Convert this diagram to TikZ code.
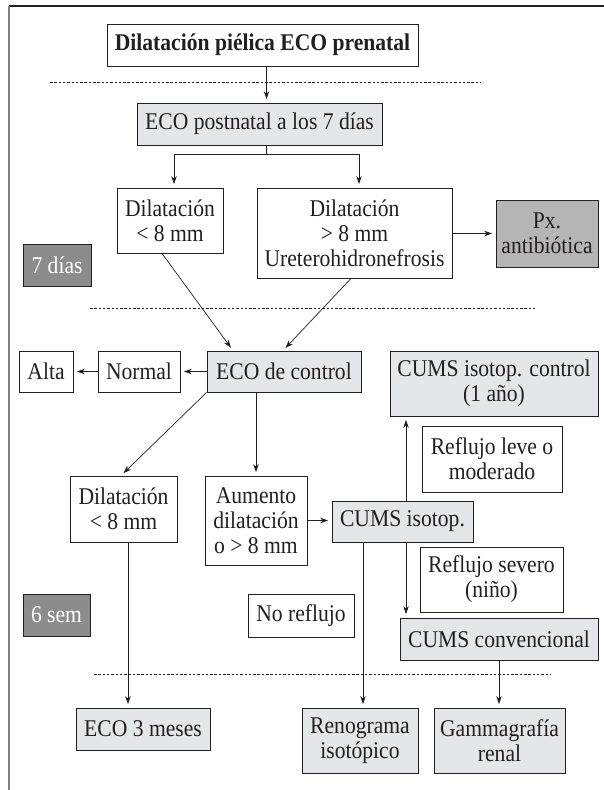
\documentclass[tikz,border=0pt]{standalone}
\usepackage{fontspec}
\setmainfont{Liberation Serif}[FakeStretch=0.9]
\usetikzlibrary{arrows.meta,calc}
\definecolor{lightbox}{HTML}{E5E6E7}
\definecolor{midbox}{HTML}{B5B5B5}
\definecolor{darkbox}{HTML}{8C8C8C}
\definecolor{ink}{HTML}{231F20}
\begin{document}
\begin{tikzpicture}[x=1pt,y=-1pt,
  box/.style={draw=ink, line width=0.8pt, inner sep=0pt, align=center, text=ink,
    font=\fontsize{24}{25}\selectfont},
  lbox/.style={box, fill=lightbox},
  mbox/.style={box, fill=midbox},
  dbox/.style={box, fill=darkbox, text=white},
  ln/.style={draw=ink, line width=0.7pt},
  arr/.style={ln, -{Stealth[length=8pt,width=5.5pt]}, shorten >=3.5pt},
  sep/.style={draw=ink, line width=0.6pt, dash pattern=on 2.5pt off 1.8pt}]
\useasboundingbox (0,0) rectangle (604,790);
% frame
\draw[draw=ink, line width=1.4pt] (9,6) -- (604,6);
\draw[draw=gray, line width=1.8pt] (9,6) -- (9,790);
% separators
\draw[sep] (50,82) -- (481,82);
\draw[sep] (90,308) -- (535,308);
\draw[sep] (94,674) -- (550,674);
% nodes
\node[box, minimum width=311pt, minimum height=42pt, font=\fontsize{24}{25}\selectfont\bfseries] (title) at (262.5,45) {Dilatación piélica ECO prenatal};
\node[lbox, minimum width=245pt, minimum height=42pt] (ecopost) at (259.5,124) {ECO postnatal a los 7 días};
\node[box, minimum width=106pt, minimum height=65pt] (dil1) at (170,220.5) {Dilatación\\< 8 mm};
\node[box, minimum width=195pt, minimum height=90pt] (dil2) at (354.5,233) {Dilatación\\> 8 mm\\Ureterohidronefrosis};
\node[mbox, minimum width=102pt, minimum height=67pt] (px) at (547,233.5) {Px.\\antibiótica};
\node[dbox, minimum width=68pt, minimum height=42pt] (dias) at (57,265) {7 días};
\node[box, minimum width=54pt, minimum height=41pt] (alta) at (46,371.5) {Alta};
\node[box, minimum width=82pt, minimum height=41pt] (normal) at (139,371.5) {Normal};
\node[lbox, minimum width=154pt, minimum height=41pt] (ecoctrl) at (284,371.5) {ECO de control};
\node[lbox, minimum width=208pt, minimum height=65pt] (cumsctrl) at (494,383.5) {CUMS isotop. control\\(1 año)};
\node[box, minimum width=140pt, minimum height=66pt] (refleve) at (492,459) {Reflujo leve o\\moderado};
\node[box, minimum width=107pt, minimum height=66pt] (dil3) at (123.5,509) {Dilatación\\< 8 mm};
\node[box, minimum width=102pt, minimum height=89pt] (aumento) at (256,520.5) {Aumento\\dilatación\\o > 8 mm};
\node[lbox, minimum width=141pt, minimum height=41pt] (cumsiso) at (402.5,521.5) {CUMS isotop.};
\node[box, minimum width=143pt, minimum height=65pt] (refsev) at (491.5,579.5) {Reflujo severo\\(niño)};
\node[dbox, minimum width=67pt, minimum height=42pt] (sem) at (56.5,615) {6 sem};
\node[box, minimum width=106pt, minimum height=43pt] (noref) at (301,615.5) {No reflujo};
\node[lbox, minimum width=198pt, minimum height=42pt] (cumsconv) at (499,639) {CUMS convencional};
\node[lbox, minimum width=134pt, minimum height=42pt] (eco3) at (143,729) {ECO 3 meses};
\node[lbox, minimum width=116pt, minimum height=65pt] (reno) at (360,740.5) {Renograma\\isotópico};
\node[lbox, minimum width=131pt, minimum height=65pt] (gamma) at (499.5,740.5) {Gammagrafía\\renal};
% connectors
\coordinate (ts) at ($(title.south)+(4,0)$);
\draw[arr] (ts) -- (ts |- ecopost.north);
\coordinate (bm) at (266,154);
\coordinate (bl) at (174,154);
\coordinate (br) at (359,154);
\draw[ln] (bm |- ecopost.south) -- (bm);
\draw[ln] (bl) -- (br);
\draw[arr] (bl) -- (bl |- dil1.north);
\draw[arr] (br) -- (br |- dil2.north);
\draw[arr] (dil2.east |- px.west) -- (px.west);
\draw[arr] ($(dil1.south)+(-8,0)$) -- ($(ecoctrl.north)+(-51,0)$);
\draw[arr] ($(dil2.south)+(-3.5,0)$) -- ($(ecoctrl.north)+(-1,0)$);
\draw[arr] (ecoctrl.west) -- (normal.east);
\draw[arr] (normal.west) -- (alta.east);
\draw[arr] (ecoctrl.south west) -- ($(dil3.north)+(-2.5,0)$);
\draw[arr] (aumento.north |- ecoctrl.south) -- (aumento.north);
\draw[arr] (aumento.east) -- (aumento.east -| cumsiso.west);
\coordinate (cu) at ($(cumsiso.north)+(3.5,0)$);
\draw[arr] (cu) -- (cu |- cumsctrl.south);
\coordinate (cd) at ($(cumsiso.south)+(3.5,0)$);
\draw[arr] (cd) -- (cd |- cumsconv.north);
\coordinate (cr) at ($(reno.north)+(3,0)$);
\draw[arr] (cr |- cumsiso.south) -- (cr);
\coordinate (d3) at ($(dil3.south)+(4.5,0)$);
\draw[arr] (d3) -- (d3 |- eco3.north);
\draw[arr] (cumsconv.south) -- (cumsconv.south |- gamma.north);
\end{tikzpicture}
\end{document}
